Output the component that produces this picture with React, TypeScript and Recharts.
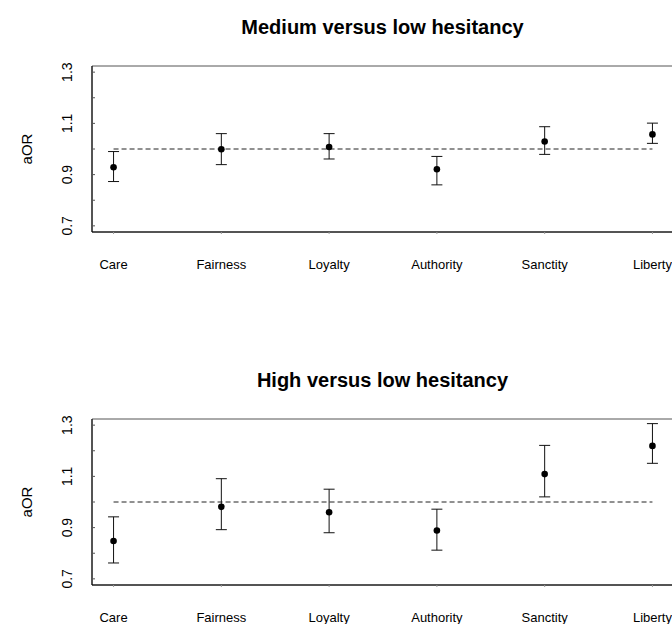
import React from 'react';
import { ScatterChart, Scatter, XAxis, YAxis, ErrorBar, ReferenceLine, ReferenceArea } from 'recharts';

const categories = ['Care', 'Fairness', 'Loyalty', 'Authority', 'Sanctity', 'Liberty'];

// Medium versus low hesitancy
const mediumOR = [0.929, 0.999, 1.008, 0.921, 1.029, 1.057];
const mediumLower = [0.873, 0.939, 0.961, 0.86, 0.979, 1.022];
const mediumUpper = [0.99, 1.06, 1.06, 0.971, 1.087, 1.101];

// High versus low hesitancy
const highOR = [0.848, 0.981, 0.96, 0.889, 1.109, 1.219];
const highLower = [0.762, 0.892, 0.88, 0.812, 1.02, 1.151];
const highUpper = [0.942, 1.091, 1.05, 0.972, 1.221, 1.306];

const yTicks = [0.7, 0.8, 0.9, 1.0, 1.1, 1.2, 1.3];
const yLabelled = [0.7, 0.9, 1.1, 1.3];
const xPositions = categories.map((_, i) => i + 1);
const yDomain: [number, number] = [0.676, 1.324];
const xDomain: [number, number] = [0.8, 6.2];

const FONT = '"Liberation Sans", Arial, Helvetica, sans-serif';

function buildRows(or: number[], lo: number[], hi: number[]) {
  return or.map((v, i) => ({
    x: xPositions[i],
    y: v,
    err: [v - lo[i], hi[i] - v],
  }));
}

const YTick = (props: any) => {
  const { x, y, payload } = props;
  const v = Number(payload.value);
  const show = yLabelled.some((t) => Math.abs(t - v) < 1e-6);
  return (
    <g>
      <line x1={x} x2={x + 3} y1={y} y2={y} stroke="#555" />
      {show && (
        <text
          x={x - 25}
          y={y}
          transform={`rotate(-90 ${x - 25} ${y})`}
          textAnchor="middle"
          dominantBaseline="central"
          fontSize={14}
          fontFamily={FONT}
          fill="#000"
        >
          {v.toFixed(1)}
        </text>
      )}
    </g>
  );
};

const XTick = (props: any) => {
  const { x, y, payload } = props;
  const label = categories[Math.round(payload.value) - 1];
  return (
    <g>
      <line x1={x} x2={x} y1={y} y2={y + 2} stroke="#999" />
      <text x={x} y={y + 32} textAnchor="middle" dominantBaseline="central" fontSize={13} fontFamily={FONT} fill="#000">
        {label}
      </text>
    </g>
  );
};

const Dot = (props: any) => <circle cx={props.cx} cy={props.cy} r={3.3} fill="#000" />;

function Panel({ title, rows, top }: { title: string; rows: any[]; top: number }) {
  return (
    <div style={{ position: 'absolute', left: 0, top, width: 690, height: 300 }}>
      <div
        style={{
          position: 'absolute',
          left: 0,
          top: 16,
          width: 765,
          textAlign: 'center',
          fontFamily: FONT,
          fontWeight: 'bold',
          fontSize: 20,
          lineHeight: '22px',
          color: '#000',
        }}
      >
        {title}
      </div>
      <ScatterChart width={690} height={300} margin={{ top: 66, right: 16, left: 0, bottom: 18 }}>
        <ReferenceArea x1={xDomain[0]} x2={xDomain[1]} y1={yDomain[0]} y2={yDomain[1]} fill="none" fillOpacity={0} stroke="#555" />
        <XAxis
          type="number"
          dataKey="x"
          domain={xDomain}
          ticks={xPositions}
          interval={0}
          allowDataOverflow
          height={50}
          tickSize={0}
          tickMargin={0}
          tickLine={false}
          axisLine={{ stroke: '#000' }}
          tick={<XTick />}
        />
        <YAxis
          type="number"
          dataKey="y"
          domain={yDomain}
          ticks={yTicks}
          interval={0}
          allowDataOverflow
          width={92}
          tickSize={0}
          tickMargin={0}
          tickLine={false}
          axisLine={{ stroke: '#000' }}
          tick={<YTick />}
          label={({ viewBox }: any) => {
            const cx = viewBox.x + 26;
            const cy = viewBox.y + viewBox.height / 2;
            return (
              <text
                x={cx}
                y={cy}
                transform={`rotate(-90 ${cx} ${cy})`}
                textAnchor="middle"
                dominantBaseline="central"
                fontSize={15}
                fontFamily={FONT}
                fill="#000"
              >
                aOR
              </text>
            );
          }}
        />
        <ReferenceLine
          segment={[
            { x: xPositions[0], y: 1 },
            { x: xPositions[xPositions.length - 1], y: 1 },
          ]}
          stroke="#222"
          strokeDasharray="5 3"
        />
        <Scatter data={rows} dataKey="y" shape={<Dot />} isAnimationActive={false}>
          <ErrorBar dataKey="err" direction="y" width={5.5} stroke="#111" strokeWidth={1} isAnimationActive={false} />
        </Scatter>
      </ScatterChart>
    </div>
  );
}

export default function App() {
  const medium = buildRows(mediumOR, mediumLower, mediumUpper);
  const high = buildRows(highOR, highLower, highUpper);
  return (
    <div style={{ position: 'absolute', left: 0, top: 0, width: 672, height: 624, overflow: 'hidden', background: '#fff' }}>
      <Panel title="Medium versus low hesitancy" rows={medium} top={0} />
      <Panel title="High versus low hesitancy" rows={high} top={353} />
    </div>
  );
}
